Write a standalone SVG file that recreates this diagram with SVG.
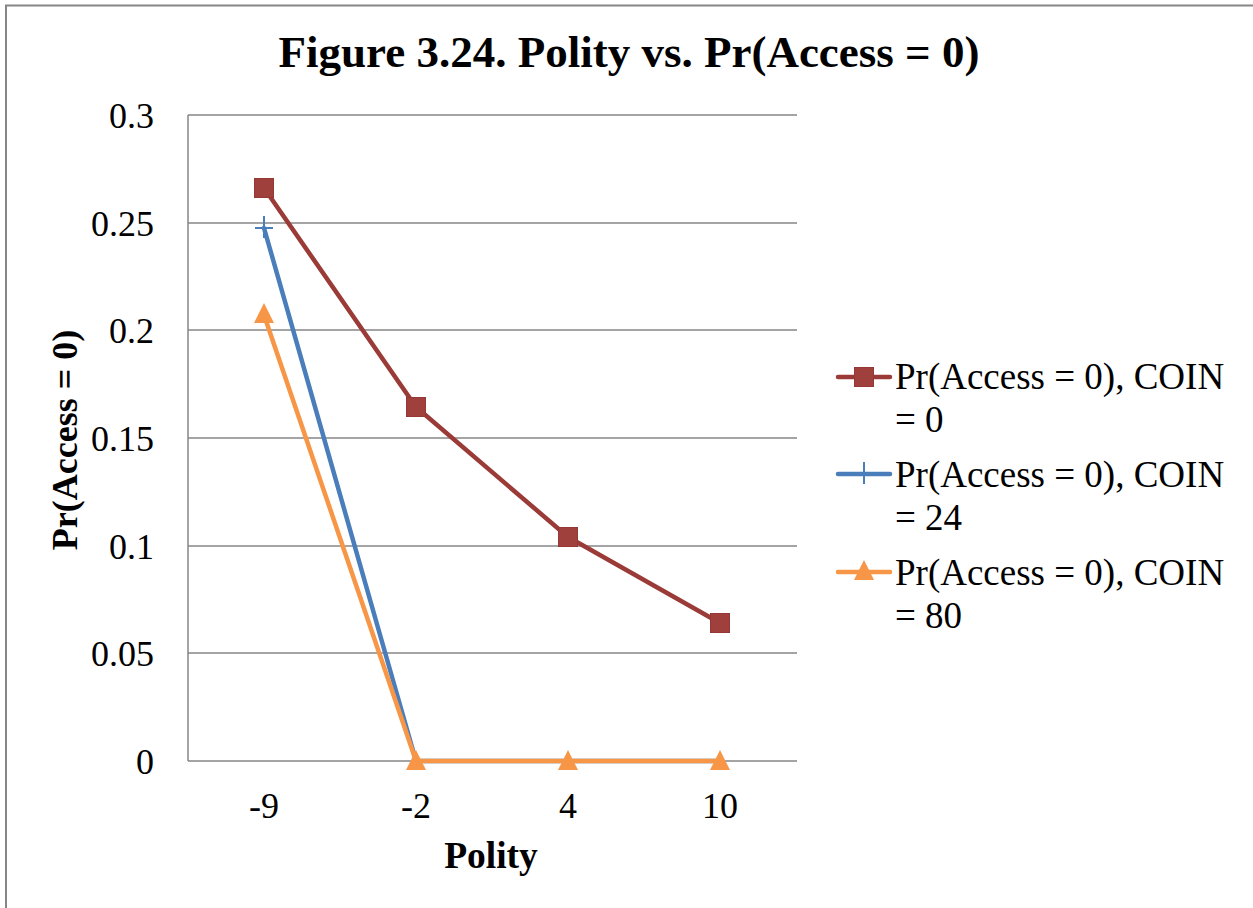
<svg xmlns="http://www.w3.org/2000/svg" width="1253" height="908" viewBox="0 0 1253 908">
<style>
.t{font-family:"Liberation Serif","Times New Roman",serif;fill:#000}
.tick{font-size:36px}
.leg{font-size:37px}
.grid{stroke:#868686;stroke-width:1.5}
.ser{fill:none;stroke-width:4.5;stroke-linejoin:round;stroke-linecap:round}
</style>
<defs>
<rect id="sq" x="-9.5" y="-9.5" width="19" height="19" fill="#A0403D" stroke="#953735" stroke-width="1"/>
<path id="plus" d="M-9,0H9M0,-12V10" stroke="#4A7EBB" stroke-width="2" fill="none"/>
<path id="tri" d="M0,-12L10,8H-10Z" fill="#F79646"/>
</defs>
<rect x="0" y="0" width="1253" height="908" fill="#fff"/>
<rect x="6" y="5.5" width="1260" height="920" fill="#fff" stroke="#868686" stroke-width="2"/>
<text class="t" x="629" y="67" text-anchor="middle" font-size="45" font-weight="bold">Figure 3.24. Polity vs. Pr(Access = 0)</text>
<g id="gridlines">
<line class="grid" x1="188" y1="115" x2="797" y2="115"/>
<line class="grid" x1="188" y1="223" x2="797" y2="223"/>
<line class="grid" x1="188" y1="330" x2="797" y2="330"/>
<line class="grid" x1="188" y1="438" x2="797" y2="438"/>
<line class="grid" x1="188" y1="546" x2="797" y2="546"/>
<line class="grid" x1="188" y1="653" x2="797" y2="653"/>
<line class="grid" x1="188" y1="761" x2="797" y2="761"/>
<line class="grid" x1="188" y1="115" x2="188" y2="761"/>
</g>
<g id="yticks" class="t tick" text-anchor="end">
<text x="154" y="128">0.3</text>
<text x="154" y="236">0.25</text>
<text x="154" y="343">0.2</text>
<text x="154" y="451">0.15</text>
<text x="154" y="559">0.1</text>
<text x="154" y="666">0.05</text>
<text x="154" y="774">0</text>
</g>
<g id="xticks" class="t tick" text-anchor="middle">
<text x="264" y="818">-9</text>
<text x="416" y="818">-2</text>
<text x="568" y="818">4</text>
<text x="720" y="818">10</text>
</g>
<text class="t" x="491" y="868" text-anchor="middle" font-size="37.5" font-weight="bold">Polity</text>
<text class="t" transform="translate(77,440) rotate(-90)" text-anchor="middle" font-size="36" font-weight="bold">Pr(Access = 0)</text>
<g id="connectors">
<polyline class="ser" stroke="#4A7EBB" points="264,228 416,761 568,761 720,761"/>
<polyline class="ser" stroke="#F79646" points="264,315 416,761 568,761 720,761"/>
<polyline class="ser" stroke="#9B3B38" points="264,188 416,407 568,537 720,623"/>
</g>
<g id="series-coin24">
<use href="#plus" x="264" y="228"/>
</g>
<g id="series-coin80">
<use href="#tri" x="264" y="315"/>
<use href="#tri" x="416" y="762"/>
<use href="#tri" x="568" y="762"/>
<use href="#tri" x="720" y="762"/>
</g>
<g id="series-coin0">
<use href="#sq" x="264" y="188"/>
<use href="#sq" x="416" y="407"/>
<use href="#sq" x="568" y="537"/>
<use href="#sq" x="720" y="623"/>
</g>
<g id="legend">
<g id="leg1">
<line class="ser" stroke="#9B3B38" x1="838" y1="377" x2="890" y2="377"/>
<use href="#sq" x="864" y="377"/>
<text class="t leg" x="895" y="389">Pr(Access = 0), COIN</text>
<text class="t leg" x="895" y="432">= 0</text>
</g>
<g id="leg2">
<line class="ser" stroke="#4A7EBB" x1="838" y1="474" x2="890" y2="474"/>
<use href="#plus" x="864" y="474"/>
<text class="t leg" x="895" y="487">Pr(Access = 0), COIN</text>
<text class="t leg" x="895" y="530">= 24</text>
</g>
<g id="leg3">
<line class="ser" stroke="#F79646" x1="838" y1="572" x2="890" y2="572"/>
<use href="#tri" x="864" y="572"/>
<text class="t leg" x="895" y="585">Pr(Access = 0), COIN</text>
<text class="t leg" x="895" y="628">= 80</text>
</g>
</g>
</svg>
